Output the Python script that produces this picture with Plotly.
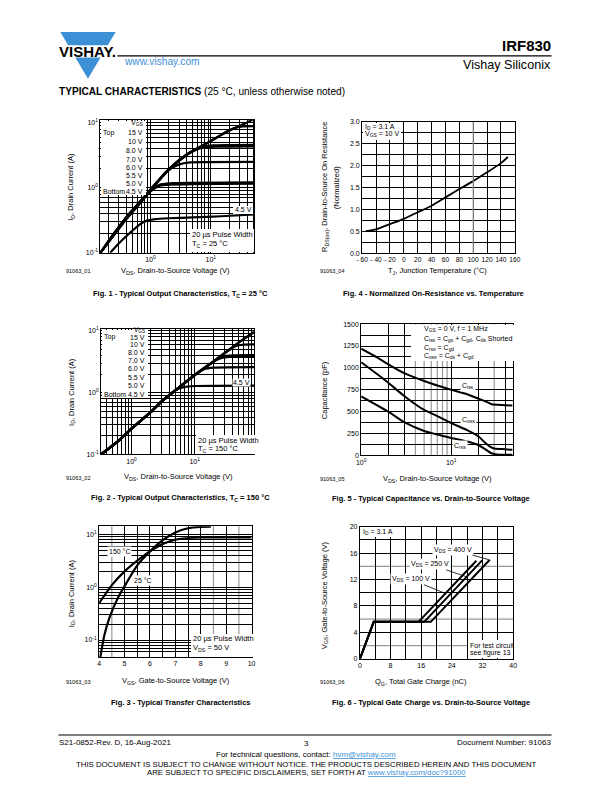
import math
import plotly.graph_objects as go

W, H = 612, 792
FONT = "Liberation Sans, Arial, Helvetica, sans-serif"
BLUE = "#3d8fd6"

# ---------------- Fig. 1 data (TC = 25 degC) ----------------
f1_v_15 = [0.148, 0.25, 0.4, 0.6, 1.0, 2.0, 4.0, 10, 20, 35, 52]
f1_i_15 = [0.1, 0.2, 0.36, 0.55, 0.95, 1.95, 3.3, 5.3, 7.6, 9.6, 11.5]
f1_v_10 = [0.148, 0.25, 0.4, 0.6, 1.0, 2.0, 4.0, 10, 18, 25, 32, 52]
f1_i_10 = [0.1, 0.2, 0.35, 0.54, 0.93, 1.9, 3.25, 5.25, 7.3, 8.4, 8.8, 8.9]
f1_v_8 = [0.148, 0.25, 0.4, 0.6, 1.0, 2.0, 4.0, 6.0, 8.0, 11, 20, 52]
f1_i_8 = [0.1, 0.2, 0.35, 0.54, 0.93, 1.9, 3.25, 4.05, 4.4, 4.5, 4.55, 4.6]
f1_v_7 = [0.148, 0.25, 0.4, 0.6, 1.0, 2.0, 4.0, 6.0, 8.0, 12, 52]
f1_i_7 = [0.1, 0.19, 0.34, 0.53, 0.92, 1.88, 3.2, 3.95, 4.2, 4.3, 4.35]
f1_v_6 = [0.148, 0.25, 0.4, 0.6, 1.0, 2.0, 3.0, 4.5, 8.0, 52]
f1_i_6 = [0.1, 0.19, 0.34, 0.53, 0.92, 1.88, 2.3, 2.47, 2.5, 2.52]
f1_v_55 = [0.148, 0.25, 0.4, 0.6, 1.0, 1.4, 2.2, 5.0, 52]
f1_i_55 = [0.1, 0.19, 0.34, 0.52, 0.9, 1.12, 1.18, 1.2, 1.22]
f1_v_5 = [0.148, 0.25, 0.4, 0.6, 1.0, 1.4, 2.2, 5.0, 52]
f1_i_5 = [0.1, 0.19, 0.33, 0.51, 0.88, 1.07, 1.12, 1.14, 1.16]
f1_v_45 = [0.215, 0.3, 0.45, 0.65, 0.85, 1.2, 2.0, 5.0, 15, 52]
f1_i_45 = [0.1, 0.14, 0.2, 0.27, 0.31, 0.33, 0.34, 0.35, 0.365, 0.39]
f1_labels = ["15 V", "10 V", "8.0 V", "7.0 V", "6.0 V", "5.5 V", "5.0 V", "4.5 V"]

# ---------------- Fig. 2 data (TC = 150 degC) ----------------
f2_v_lin = [0.33, 0.6, 1, 2, 3, 5, 10, 20, 30, 50, 87]
f2_i_lin = [0.1, 0.16, 0.26, 0.48, 0.72, 1.1, 1.93, 3.2, 4.4, 6.5, 9.6]
f2_v_10sat = [45, 60, 87]
f2_i_10sat = [5.7, 6.0, 6.05]
f2_v_8sat = [26, 35, 87]
f2_i_8sat = [3.8, 4.0, 4.05]
f2_v_7sat = [26, 35, 87]
f2_i_7sat = [3.6, 3.78, 3.8]
f2_v_6sat = [14, 20, 87]
f2_i_6sat = [2.4, 2.55, 2.6]
f2_v_45sat = [7, 10, 87]
f2_i_45sat = [1.24, 1.28, 1.3]

# ---------------- Fig. 3 data (transfer) ----------------
f3_vgs_25 = [4.04, 4.2, 4.4, 4.75, 5.0, 5.5, 6.0, 6.5, 7.0, 7.5, 8.0, 8.4]
f3_id_25 = [0.045, 0.12, 0.26, 0.65, 1.05, 2.6, 4.8, 7.8, 11.0, 13.2, 14.0, 14.1]
f3_vgs_150 = [4.0, 4.5, 5.0, 5.5, 6.0, 6.5, 7.0, 7.5, 8.0, 10.0]
f3_id_150 = [0.5, 1.1, 2.0, 3.2, 4.8, 6.6, 8.0, 8.6, 8.8, 8.8]

# ---------------- Fig. 4 data (RDS(on) vs TJ) ----------------
f4_tj = [-55, -40, -20, 0, 20, 40, 60, 80, 100, 120, 140, 150]
f4_r = [0.51, 0.55, 0.67, 0.79, 0.94, 1.09, 1.28, 1.47, 1.65, 1.85, 2.06, 2.2]

# ---------------- Fig. 5 data (capacitance) ----------------
f5_v = [1, 1.5, 2, 3, 5, 7, 10, 15, 20, 25, 28, 32, 40, 48]
f5_ciss = [1220, 1120, 1040, 940, 850, 800, 750, 700, 650, 610, 585, 578, 575, 570]
f5_v_oss = [1, 1.5, 2, 3, 5, 7, 10, 15, 20, 23, 27, 30, 40, 48]
f5_coss = [1065, 930, 830, 680, 520, 450, 370, 290, 220, 160, 100, 80, 72, 65]
f5_v_rss = [1, 2, 3, 5, 7, 10, 15, 20, 24, 28, 32, 48]
f5_crss = [675, 500, 380, 280, 240, 200, 160, 120, 70, 25, 10, 8]

# ---------------- Fig. 6 data (gate charge) ----------------
f6_q_100 = [0, 3.6, 15.3, 30.4]
f6_v_100 = [0, 5.6, 5.6, 14.85]
f6_q_250 = [0, 3.6, 16.8, 31.9]
f6_v_250 = [0, 5.6, 5.6, 14.9]
f6_q_400 = [0, 3.6, 18.5, 33.9]
f6_v_400 = [0, 5.6, 5.6, 15.0]


def log_split(lo_dec, hi_dec, lo, hi):
    major, minor = [], []
    for d in range(lo_dec, hi_dec + 1):
        for m in range(1, 10):
            v = m * 10 ** d
            if lo <= v <= hi:
                (major if m == 1 else minor).append(v)
    return major, minor


def sup(vals):
    return ["10<sup>%d</sup>" % round(math.log10(v)) for v in vals]


def px(x):
    return x / W


def py(y):
    return 1 - y / H


fig = go.Figure()


def line(x, y, ax, w=2.0, color="black"):
    fig.add_trace(go.Scatter(x=x, y=y, mode="lines", xaxis=ax[0], yaxis=ax[1],
                             line=dict(color=color, width=w, shape="spline", smoothing=0.6),
                             hoverinfo="skip"))


A1 = ("x", "y")
A4 = ("x2", "y2")
A2 = ("x3", "y3")
A5 = ("x4", "y4")
A3 = ("x5", "y5")
A6 = ("x6", "y6")

# Fig 1
for v, i in [(f1_v_45, f1_i_45), (f1_v_5, f1_i_5), (f1_v_55, f1_i_55), (f1_v_6, f1_i_6),
             (f1_v_7, f1_i_7), (f1_v_8, f1_i_8), (f1_v_10, f1_i_10), (f1_v_15, f1_i_15)]:
    line(v, i, A1, 2.2)


def upto(xs, ys, lim):
    k = [j for j, xv in enumerate(xs) if xv <= lim]
    return [xs[j] for j in k], [ys[j] for j in k]

# Fig 2
for lim, sv, si in [(5, f2_v_45sat, f2_i_45sat), (10, f2_v_6sat, f2_i_6sat),
                    (20, f2_v_7sat, f2_i_7sat), (20, f2_v_8sat, f2_i_8sat),
                    (30, f2_v_10sat, f2_i_10sat)]:
    bx, by = upto(f2_v_lin, f2_i_lin, lim)
    line(bx + sv, by + si, A2, 2.2)
line(f2_v_lin, f2_i_lin, A2, 2.6)

# Fig 3
line(f3_vgs_25, f3_id_25, A3, 2.2)
line(f3_vgs_150, f3_id_150, A3, 2.2)

# Fig 4
line(f4_tj, f4_r, A4, 1.8)

# Fig 5
line(f5_v, f5_ciss, A5, 2.0)
line(f5_v_oss, f5_coss, A5, 2.0)
line(f5_v_rss, f5_crss, A5, 2.0)

# Fig 6
for q, v in [(f6_q_100, f6_v_100), (f6_q_250, f6_v_250), (f6_q_400, f6_v_400)]:
    fig.add_trace(go.Scatter(x=q, y=v, mode="lines", xaxis="x6", yaxis="y6",
                             line=dict(color="black", width=2.0), hoverinfo="skip"))

GW = 1.0
base = dict(showline=True, linecolor="black", linewidth=1, mirror=True, ticks="",
            showgrid=True, gridcolor="black", gridwidth=GW, zeroline=False,
            tickfont=dict(size=7, family=FONT), fixedrange=True, tickangle=0)


def mnr(vals):
    return dict(tickmode="array", tickvals=vals, showgrid=True, gridcolor="black",
                gridwidth=GW, ticks="")


def dom(x0, x1, y0, y1):
    return [x0 / W, x1 / W], [1 - y1 / H, 1 - y0 / H]

# Fig 1 axes
dx, dy = dom(96.3, 253, 117, 251)
ma, mi = log_split(-1, 1, 0.148, 52)
fig.update_layout(xaxis=dict(base, type="log", domain=dx, anchor="y",
                             range=[math.log10(0.148), math.log10(52)],
                             tickmode="array", tickvals=ma, ticktext=sup(ma), minor=mnr(mi)))
ma, mi = log_split(-1, 1, 0.1, 11.1)
fig.update_layout(yaxis=dict(base, type="log", domain=dy, anchor="x",
                             range=[-1, 1.046], tickmode="array", tickvals=ma, ticktext=sup(ma),
                             minor=mnr(mi)))

# Fig 4 axes
dx, dy = dom(363.3, 519, 119, 251.7)
x4v = list(range(-60, 161, 20))
x4t = [("- %d" % -v) if v < 0 else str(v) for v in x4v]
y4v = [k * 0.5 for k in range(7)]
y4t = ["%.1f" % v for v in y4v]
fig.update_layout(xaxis2=dict(base, domain=dx, anchor="y2", range=[-60, 160],
                              tickmode="array", tickvals=x4v, ticktext=x4t,
                              tickfont=dict(size=6.6, family=FONT)),
                  yaxis2=dict(base, domain=dy, anchor="x2", range=[0, 3],
                              tickmode="array", tickvals=y4v, ticktext=y4t,
                              minor=mnr([0.25 + 0.5 * k for k in range(6)])))

# Fig 2 axes
dx, dy = dom(97, 253, 328, 454.3)
ma, mi = log_split(-1, 1, 0.33, 87)
fig.update_layout(xaxis3=dict(base, type="log", domain=dx, anchor="y3",
                              range=[math.log10(0.33), math.log10(87)],
                              tickmode="array", tickvals=ma, ticktext=sup(ma), minor=mnr(mi)))
ma, mi = log_split(-1, 1, 0.1, 10.7)
fig.update_layout(yaxis3=dict(base, type="log", domain=dy, anchor="x3",
                              range=[-1, 1.03], tickmode="array", tickvals=ma, ticktext=sup(ma),
                              minor=mnr(mi)))

# Fig 5 axes
dx, dy = dom(362.3, 516.7, 323, 455.5)
fig.update_layout(xaxis4=dict(base, type="log", domain=dx, anchor="y4",
                              range=[0, math.log10(48)], tickmode="array",
                              tickvals=[1, 10], ticktext=sup([1, 10]),
                              minor=mnr([2, 3, 20, 40])))
y5v = list(range(0, 1501, 250))
fig.update_layout(yaxis4=dict(base, domain=dy, anchor="x4", range=[0, 1500],
                              tickmode="array", tickvals=y5v, ticktext=[str(v) for v in y5v],
                              minor=mnr([125 + 250 * k for k in range(6)])))

# Fig 3 axes
dx, dy = dom(95, 250.5, 527, 658.7)
x3v = [4, 5, 6, 7, 8, 9, 10]
fig.update_layout(xaxis5=dict(base, domain=dx, anchor="y5", range=[4, 10],
                              tickmode="array", tickvals=x3v, ticktext=[str(v) for v in x3v],
                              minor=mnr([5.5, 6.5, 7.5])))
ma, mi = log_split(-2, 1, 0.045, 14.3)
fig.update_layout(yaxis5=dict(base, type="log", domain=dy, anchor="x5",
                              range=[-1.32, 1.156], tickmode="array", tickvals=ma, ticktext=sup(ma),
                              minor=mnr(mi)))

# Fig 6 axes
dx, dy = dom(361, 517.3, 527.3, 660.7)
x6v = list(range(0, 41, 8))
y6v = list(range(0, 21, 4))
fig.update_layout(xaxis6=dict(base, domain=dx, anchor="y6", range=[0, 40],
                              tickmode="array", tickvals=x6v, ticktext=[str(v) for v in x6v],
                              minor=mnr([4, 12, 20, 28, 36])),
                  yaxis6=dict(base, domain=dy, anchor="x6", range=[0, 20],
                              tickmode="array", tickvals=y6v, ticktext=[str(v) for v in y6v],
                              minor=mnr([10, 18])))

shapes = []
GRAY = "#9a9a9a"


def vgray(xref, yref, xv, layer="below"):
    shapes.append(dict(type="line", xref=xref, yref=yref + " domain", x0=xv, x1=xv, y0=0, y1=1,
                       line=dict(color=GRAY, width=1.2), layer=layer))


def hgray(xref, yref, yv, layer="below"):
    shapes.append(dict(type="line", xref=xref + " domain", yref=yref, x0=0, x1=1, y0=yv, y1=yv,
                       line=dict(color=GRAY, width=1.2), layer=layer))

for xv in [4, 5, 6, 7, 8, 9, 30]:
    vgray("x4", "y4", xv)
for xv in [4.5, 8.5, 9.5]:
    vgray("x5", "y5", xv)
for yv in [2, 6, 14]:
    hgray("x6", "y6", yv)
vgray("x2", "y2", 100, layer="above")

anns = []


def T(text, x, y, size=7.0, xa="center", ya="middle", bold=False, color="black", angle=0, **kw):
    if bold:
        text = "<b>" + text + "</b>"
    d = dict(xref="paper", yref="paper", x=px(x), y=py(y), text=text, showarrow=False,
             xanchor=xa, yanchor=ya, textangle=angle, borderpad=0,
             font=dict(size=size, family=FONT, color=color))
    d.update(kw)
    anns.append(d)


def box(x0, y0, x1, y1):
    anns.append(dict(xref="paper", yref="paper", x=px(x0), y=py(y0), text=" ", showarrow=False,
                     xanchor="left", yanchor="top", width=x1 - x0, height=y1 - y0,
                     bgcolor="white", borderpad=0, borderwidth=0, font=dict(size=6)))

# ---- Fig 1 annotations
box(96.9, 117.6, 141.5, 192)
T("V<sub>GS</sub>", 140.5, 120.5, xa="right")
f1_ys = [130, 139, 147.7, 156.7, 165, 173, 181, 189]
for lab, yy in zip(f1_labels, f1_ys):
    T(lab, 140.5, yy, xa="right")
T("Top", 98, 130, xa="left")
T("Bottom", 98, 189, xa="left")
box(232, 203.5, 252.4, 211.5)
T("4.5 V", 251.5, 207.5, xa="right")
box(188, 227, 252.4, 250.4)
T("20 µs Pulse Width", 189, 233, xa="left", size=7.5)
T("T<sub>C</sub> = 25 °C", 189, 242, xa="left", size=7.5)
T("I<sub>D</sub>, Drain Current (A)", 66.7, 184, size=7.5, angle=-90)
T("V<sub>DS</sub>, Drain-to-Source Voltage (V)", 173, 269, size=7.5)
T("91063_01", 73, 269, size=5.5)
T("Fig. 1 - Typical Output Characteristics, T<sub>C</sub> = 25 °C", 178, 292.5, size=7.5, bold=True)

# ---- Fig 2 annotations
box(97.6, 328.6, 143.2, 396.5)
T("V<sub>GS</sub>", 142.5, 329, xa="right", size=6.5)
f2_ys = [336, 343.5, 351.5, 359.5, 367.7, 376.7, 385, 394]
for lab, yy in zip(f1_labels, f2_ys):
    T(lab, 142.5, yy, xa="right")
T("Top", 98.5, 336, xa="left")
T("Bottom", 98.5, 394, xa="left")
T("4.5 V", 250, 381.7, xa="right", bgcolor="white")
box(193.5, 434.5, 252.4, 453.7)
T("20 µs Pulse Width", 194.5, 440, xa="left", size=7.5)
T("T<sub>C</sub> = 150 °C", 194.5, 449, xa="left", size=7.5)
T("I<sub>D</sub>, Drain Current (A)", 66.7, 391, size=7.5, angle=-90)
T("V<sub>DS</sub>, Drain-to-Source Voltage (V)", 176, 477.5, size=7.5)
T("91063_02", 73, 478.5, size=5.5)
T("Fig. 2 - Typical Output Characteristics, T<sub>C</sub> = 150 °C", 178, 498.5, size=7.5, bold=True)

# ---- Fig 3 annotations
T("150 °C", 116, 552.6, bgcolor="white", borderpad=1)
T("25 °C", 139.5, 581.3, bgcolor="white", borderpad=1)
box(188.3, 635.3, 249.9, 658.1)
T("20 µs Pulse Width", 189.3, 640.5, xa="left", size=7.5)
T("V<sub>DS</sub> = 50 V", 189.3, 649.5, xa="left", size=7.5)
T("I<sub>D</sub>, Drain Current (A)", 66.7, 594, size=7.5, angle=-90)
T("V<sub>GS</sub>, Gate-to-Source Voltage (V)", 173, 683.5, size=7.5)
T("91063_03", 73, 684, size=5.5)
T("Fig. 3 - Typical Transfer Characteristics", 178, 704.5, size=7.5, bold=True)

# ---- Fig 4 annotations
box(363.9, 119.6, 402, 136.5)
T("I<sub>D</sub> = 3.1 A", 365, 124, xa="left")
T("V<sub>GS</sub> = 10 V", 365, 131.5, xa="left")
T("R<sub>DS(on)</sub>, Drain-to-Source On Resistance", 326, 185, size=7.5, angle=-90)
T("(Normalized)", 336.5, 185, size=7.5, angle=-90)
T("T<sub>J</sub>, Junction Temperature (°C)", 440, 269, size=7.5)
T("91063_04", 333, 269, size=5.5)
T("Fig. 4 - Normalized On-Resistance vs. Temperature", 436, 292.5, size=7.5, bold=True)

# ---- Fig 5 annotations
box(413, 323.6, 516.1, 360)
T("V<sub>GS</sub> = 0 V, f = 1 MHz", 425, 328, xa="left")
T("C<sub>iss</sub> = C<sub>gs</sub> + C<sub>gd</sub>, C<sub>ds</sub> Shorted", 425, 337.5, xa="left")
T("C<sub>rss</sub> = C<sub>gd</sub>", 425, 346.8, xa="left")
T("C<sub>oss</sub> = C<sub>ds</sub> + C<sub>gd</sub>", 425, 355.2, xa="left")
T("C<sub>iss</sub>", 471.7, 385.5, bgcolor="white", borderpad=1)
T("C<sub>oss</sub>", 471.7, 419.5, bgcolor="white", borderpad=1)
T("C<sub>rss</sub>", 463.3, 446, bgcolor="white", borderpad=1)
T("Capacitance (pF)", 325, 390, size=7.5, angle=-90)
T("V<sub>DS</sub>, Drain-to-Source Voltage (V)", 440, 479, size=7.5)
T("91063_05", 333, 479.5, size=5.5)
T("Fig. 5 - Typical Capacitance vs. Drain-to-Source Voltage", 434, 498.5, size=7.5, bold=True)

# ---- Fig 6 annotations
box(361.6, 527.9, 400.5, 538)
T("I<sub>D</sub> = 3.1 A", 363, 532.5, xa="left")
box(471.5, 642, 516.7, 660.1)
T("For test circuit", 472.5, 647, xa="left")
T("see figure 13", 472.5, 655, xa="left")
for txt, tip, cx, cy in [("V<sub>DS</sub> = 400 V", (33.6, 15.0), 456.7, 550.5),
                         ("V<sub>DS</sub> = 250 V", (27.9, 12.4), 433.3, 565.5),
                         ("V<sub>DS</sub> = 100 V", (22.3, 9.9), 413.3, 580.5)]:
    tx = 361 + tip[0] / 40 * (517.3 - 361)
    ty = 660.7 - tip[1] / 20 * (660.7 - 527.3)
    anns.append(dict(xref="x6", yref="y6", x=tip[0], y=tip[1], text=txt, showarrow=True,
                     arrowhead=0, arrowwidth=0.8, arrowcolor="black", ax=cx - tx, ay=cy - ty,
                     bgcolor="white", font=dict(size=7, family=FONT, color="black")))
T("V<sub>GS</sub>, Gate-to-Source Voltage (V)", 325, 597, size=7.5, angle=-90)
T("Q<sub>G</sub>, Total Gate Charge (nC)", 423.3, 684, size=7.5)
T("91063_06", 333, 684.5, size=5.5)
T("Fig. 6 - Typical Gate Charge vs. Drain-to-Source Voltage", 434, 704.5, size=7.5, bold=True)

# ---- Header
shapes.append(dict(type="path", xref="paper", yref="paper",
                   path="M %f,%f L %f,%f L %f,%f Z" % (px(55.4), py(28.3), px(111.8), py(28.3), px(83.6), py(75.5)),
                   fillcolor=BLUE, line=dict(width=0)))
shapes.append(dict(type="rect", xref="paper", yref="paper", x0=px(50), x1=px(116),
                   y0=py(54), y1=py(41.5), fillcolor="white", line=dict(width=0)))
T("VISHAY.", 83, 47.8, size=15, bold=True)
shapes.append(dict(type="line", xref="paper", yref="paper", x0=px(113.7), x1=px(556.5),
                   y0=py(52.3), y1=py(52.3), line=dict(color="black", width=1.2)))
T("www.vishay.com", 119.5, 58.5, size=10.2, xa="left", color=BLUE)
T("IRF830", 556.5, 42, size=15, xa="right", bold=True)
T("Vishay Siliconix", 556.5, 62, size=12.6, xa="right")
T("<b>TYPICAL CHARACTERISTICS</b> (25 °C, unless otherwise noted)", 53.5, 88.3, size=10.1, xa="left")

# ---- Footer
shapes.append(dict(type="line", xref="paper", yref="paper", x0=px(53.5), x1=px(556.5),
                   y0=py(737.5), y1=py(737.5), line=dict(color="black", width=1.2)))
T("S21-0852-Rev. D, 16-Aug-2021", 53.5, 745.5, size=8, xa="left")
T("3", 306, 746, size=8)
T("Document Number: 91063", 556.5, 745.5, size=8, xa="right")
T("For technical questions, contact: <span style='color:%s'><u>hvm@vishay.com</u></span>" % BLUE,
  306, 757, size=8)
T("THIS DOCUMENT IS SUBJECT TO CHANGE WITHOUT NOTICE. THE PRODUCTS DESCRIBED HEREIN AND THIS DOCUMENT",
  306, 767.5, size=7.8)
T("ARE SUBJECT TO SPECIFIC DISCLAIMERS, SET FORTH AT <span style='color:%s'><u>www.vishay.com/doc?91000</u></span>" % BLUE,
  306, 775.5, size=7.8)

fig.update_layout(width=W, height=H, margin=dict(l=0, r=0, t=0, b=0, pad=0),
                  paper_bgcolor="white", plot_bgcolor="white", showlegend=False,
                  font=dict(family=FONT, size=7, color="black"),
                  annotations=anns, shapes=shapes)

fig.write_html("out.html", config={"displayModeBar": False, "staticPlot": True},
               post_script="document.body.style.margin='0';document.body.style.overflow='hidden';")
